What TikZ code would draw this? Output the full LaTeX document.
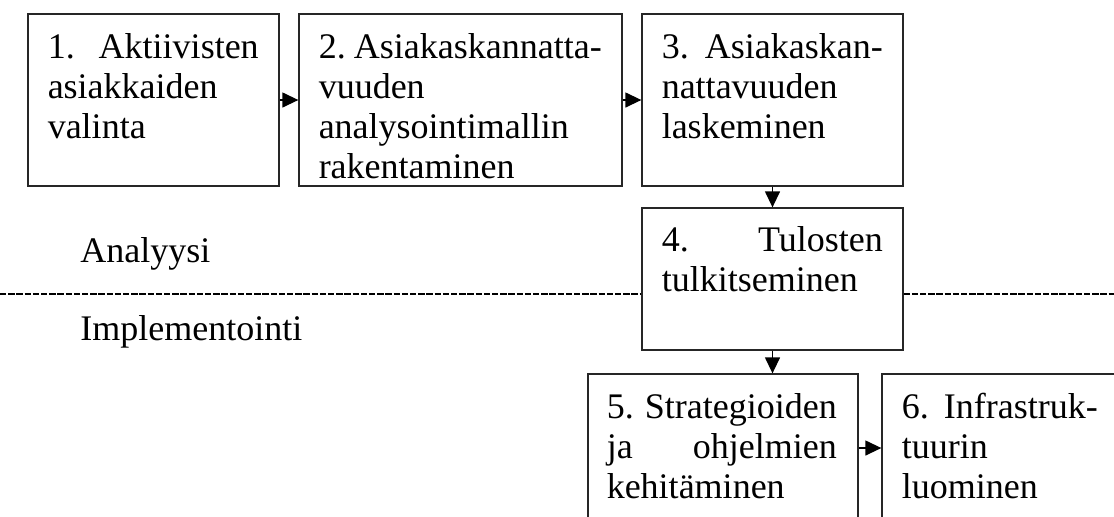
\documentclass[tikz,border=0pt]{standalone}
\usepackage{fontspec}
\setmainfont{Liberation Serif}
\usetikzlibrary{arrows.meta,fit,calc}

% one drawing unit
\newdimen\px \px=0.5pt
% a line spread to the full text width
\newcommand\spreadline[2]{\makebox[\linewidth]{#1\hfill #2}}

\tikzset{
  stepbox/.style={draw=black!85, line width=0.65pt, inner sep=0pt, fill=white},
  steptext/.style={anchor=north west, inner sep=0pt, align=left,
    font=\fontsize{18}{20}\selectfont},
  phase/.style={inner sep=0pt, font=\fontsize{18}{20}\selectfont},
  flow/.style={line width=0.65pt, -{Triangle[length=8pt,width=7.5pt]}},
  divider/.style={line width=0.6pt, dash pattern=on 3.2pt off 0.9pt},
}

\begin{document}
\begin{tikzpicture}[x=\px, y=-\px]
\useasboundingbox (0,0) rectangle (1114,516);

% phase divider
\coordinate (dl) at (0,294);
\coordinate (dr) at (1114,294);

% process steps
\node[stepbox, fit={(28,14) (279,186)}] (b1) {};
\node[stepbox, fit={(299,14) (622,186)}] (b2) {};
\node[stepbox, fit={(642,14) (903,186)}] (b3) {};
\node[stepbox, fit={(642,208) (903,350)}] (b4) {};
\node[stepbox, fit={(588,374) (858,522)}] (b5) {};
\node[stepbox, fit={(882,374) (1124,522)}] (b6) {};

\node[steptext, text width=211\px] (t1) at ($(b1.north west)+(20,17)$)
  {\strut\spreadline{1.}{Aktiivisten}\\asiakkaiden\\valinta};
\node[steptext, text width=283\px] (t2) at ($(b2.north west)+(20,17)$)
  {\strut\spreadline{2.}{Asiakaskannatta-}\\vuuden\\analysointimallin\\rakentaminen};
\node[steptext, text width=221\px] (t3) at ($(b3.north west)+(20,17)$)
  {\strut\spreadline{3.}{Asiakaskan-}\\nattavuuden\\laskeminen};
\node[steptext, text width=221\px] (t4) at ($(b4.north west)+(20,16)$)
  {\strut\spreadline{4.}{Tulosten}\\tulkitseminen};
\node[steptext, text width=230\px] (t5) at ($(b5.north west)+(19,17)$)
  {\strut\spreadline{5.}{Strategioiden}\\\spreadline{ja}{ohjelmien}\\kehitäminen};
\node[steptext, text width=196\px] (t6) at ($(b6.north west)+(20,17)$)
  {\strut\spreadline{6.}{Infrastruk-}\\tuurin\\luominen};

% phase labels
\node[phase, anchor=base west] (ana) at (80,262) {Analyysi};
\node[phase, anchor=base west] (imp) at (80,340) {Implementointi};

\draw[divider] (dl) -- (dl -| b4.west);
\draw[divider] (dr -| b4.east) -- (dr);

% flow between steps
\draw[flow] (b1.east) -- (b2.west);
\draw[flow] (b2.east) -- (b3.west);
\draw[flow] (b3.south) -- (b4.north);
\draw[flow] (b4.south) -- (b4.south |- b5.north);
\draw[flow] (b5.east) -- (b6.west);
\end{tikzpicture}
\end{document}
